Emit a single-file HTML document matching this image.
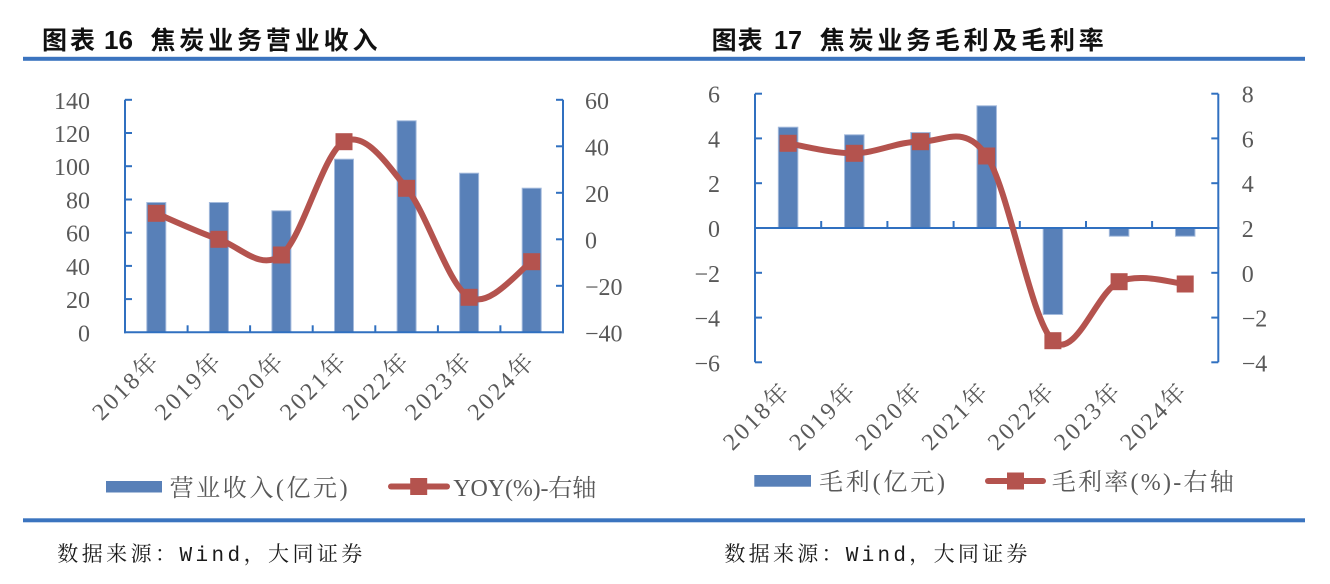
<!DOCTYPE html>
<html>
<head>
<meta charset="utf-8">
<style>
  html,body{margin:0;padding:0;background:#fff;}
  svg{display:block;}
  .ax{font-family:"Liberation Serif","Noto Serif CJK SC",serif;font-size:24px;fill:#595959;}
  .xl{font-family:"Liberation Serif","Noto Serif CJK SC",serif;font-size:24px;fill:#595959;}
  .lg{font-family:"Liberation Serif","Noto Serif CJK SC",serif;font-size:24px;fill:#595959;}
  .tt{font-family:"Noto Sans CJK SC",sans-serif;font-weight:700;font-size:25px;fill:#111;}
  .tn{font-family:"Liberation Sans",sans-serif;font-weight:700;font-size:26px;fill:#111;}
  .src{font-family:"Liberation Mono","Noto Serif CJK SC",serif;font-size:21px;fill:#1a1a1a;}
</style>
</head>
<body>
<svg width="1330" height="584" viewBox="0 0 1330 584" xmlns="http://www.w3.org/2000/svg">
  <rect x="0" y="0" width="1330" height="584" fill="#fff"/>

  <!-- Titles -->
  <text class="tt" x="42" y="49" textLength="53" lengthAdjust="spacing">图表</text>
  <text class="tn" x="104" y="49" textLength="29" lengthAdjust="spacingAndGlyphs">16</text>
  <text class="tt" x="150.5" y="49" textLength="227" lengthAdjust="spacing">焦炭业务营业收入</text>

  <text class="tt" x="711.6" y="49" textLength="51" lengthAdjust="spacing">图表</text>
  <text class="tn" x="774" y="49" textLength="28" lengthAdjust="spacingAndGlyphs">17</text>
  <text class="tt" x="819.8" y="49" textLength="284" lengthAdjust="spacing">焦炭业务毛利及毛利率</text>

  <!-- Rules -->
  <rect x="23" y="56.8" width="1282" height="4" fill="#3b74bf"/>
  <rect x="23" y="518.3" width="1282" height="4" fill="#3b74bf"/>

  <!-- ============ Chart 1 ============ -->
  <g fill="#5880b8" stroke="#a3badc" stroke-width="1">
    <rect x="146.8" y="202.5" width="19" height="129.8"/>
    <rect x="209.4" y="202.5" width="19" height="129.8"/>
    <rect x="271.9" y="210.8" width="19" height="121.5"/>
    <rect x="334.5" y="159.2" width="19" height="173.1"/>
    <rect x="397.1" y="120.8" width="19" height="211.5"/>
    <rect x="459.6" y="173.2" width="19" height="159.1"/>
    <rect x="522.2" y="188.2" width="19" height="144.1"/>
  </g>

  <g stroke="#3070c0" stroke-width="2" fill="none">
    <line x1="125" y1="99.8" x2="125" y2="333.3"/>
    <line x1="563" y1="99.8" x2="563" y2="333.3"/>
    <line x1="124" y1="332.3" x2="564" y2="332.3"/>
    <!-- left ticks -->
    <line x1="125" y1="99.8" x2="132" y2="99.8"/>
    <line x1="125" y1="133.0" x2="132" y2="133.0"/>
    <line x1="125" y1="166.2" x2="132" y2="166.2"/>
    <line x1="125" y1="199.5" x2="132" y2="199.5"/>
    <line x1="125" y1="232.7" x2="132" y2="232.7"/>
    <line x1="125" y1="265.9" x2="132" y2="265.9"/>
    <line x1="125" y1="299.1" x2="132" y2="299.1"/>
    <!-- right ticks -->
    <line x1="556" y1="99.8" x2="563" y2="99.8"/>
    <line x1="556" y1="146.3" x2="563" y2="146.3"/>
    <line x1="556" y1="192.8" x2="563" y2="192.8"/>
    <line x1="556" y1="239.3" x2="563" y2="239.3"/>
    <line x1="556" y1="285.8" x2="563" y2="285.8"/>
    <!-- category ticks -->
    <line x1="187.6" y1="332.3" x2="187.6" y2="325.3"/>
    <line x1="250.1" y1="332.3" x2="250.1" y2="325.3"/>
    <line x1="312.7" y1="332.3" x2="312.7" y2="325.3"/>
    <line x1="375.3" y1="332.3" x2="375.3" y2="325.3"/>
    <line x1="437.9" y1="332.3" x2="437.9" y2="325.3"/>
    <line x1="500.4" y1="332.3" x2="500.4" y2="325.3"/>
  </g>

  <path d="M156.3,213.3 C166.73,217.63 198.05,232.35 218.9,239.3 C239.75,246.25 260.55,271.27 281.4,255 C302.25,238.73 323.13,152.82 344,141.7 C364.87,130.58 385.75,162.37 406.6,188.3 C427.45,214.23 448.25,285.07 469.1,297.3 C489.95,309.53 521.27,267.63 531.7,261.7" fill="none" stroke="#b4534e" stroke-width="6" stroke-linecap="round" stroke-linejoin="round"/>
  <g fill="#b4534e">
    <rect x="147.8" y="204.8" width="17" height="17"/>
    <rect x="210.4" y="230.8" width="17" height="17"/>
    <rect x="272.9" y="246.5" width="17" height="17"/>
    <rect x="335.5" y="133.2" width="17" height="17"/>
    <rect x="398.1" y="179.8" width="17" height="17"/>
    <rect x="460.6" y="288.8" width="17" height="17"/>
    <rect x="523.2" y="253.2" width="17" height="17"/>
  </g>

  <g class="ax" text-anchor="end">
    <text x="90" y="108.8">140</text>
    <text x="90" y="142.0">120</text>
    <text x="90" y="175.2">100</text>
    <text x="90" y="208.5">80</text>
    <text x="90" y="241.7">60</text>
    <text x="90" y="274.9">40</text>
    <text x="90" y="308.1">20</text>
    <text x="90" y="341.3">0</text>
  </g>
  <g class="ax">
    <text x="585" y="108.8">60</text>
    <text x="585" y="155.3">40</text>
    <text x="585" y="201.8">20</text>
    <text x="585" y="248.3">0</text>
    <text x="585" y="294.8">−20</text>
    <text x="585" y="341.3">−40</text>
  </g>

  <g class="xl" text-anchor="end">
    <text x="159.8" y="363.5" transform="rotate(-45 159.8 363.5)" textLength="82" lengthAdjust="spacing">2018年</text>
    <text x="222.4" y="363.5" transform="rotate(-45 222.4 363.5)" textLength="82" lengthAdjust="spacing">2019年</text>
    <text x="284.9" y="363.5" transform="rotate(-45 284.9 363.5)" textLength="82" lengthAdjust="spacing">2020年</text>
    <text x="347.5" y="363.5" transform="rotate(-45 347.5 363.5)" textLength="82" lengthAdjust="spacing">2021年</text>
    <text x="410.1" y="363.5" transform="rotate(-45 410.1 363.5)" textLength="82" lengthAdjust="spacing">2022年</text>
    <text x="472.6" y="363.5" transform="rotate(-45 472.6 363.5)" textLength="82" lengthAdjust="spacing">2023年</text>
    <text x="535.2" y="363.5" transform="rotate(-45 535.2 363.5)" textLength="82" lengthAdjust="spacing">2024年</text>
  </g>

  <!-- Legend 1 -->
  <rect x="106" y="481" width="56" height="11.5" fill="#5880b8"/>
  <text class="lg" x="169.6" y="496" textLength="178" lengthAdjust="spacing">营业收入(亿元)</text>
  <line x1="391" y1="486.5" x2="447" y2="486.5" stroke="#b4534e" stroke-width="6" stroke-linecap="round"/>
  <rect x="410.2" y="478" width="17" height="17" fill="#b4534e"/>
  <text class="lg" x="453.3" y="496" textLength="143" lengthAdjust="spacing">YOY(%)-右轴</text>

  <!-- ============ Chart 2 ============ -->
  <g fill="#5880b8" stroke="#a3badc" stroke-width="1">
    <rect x="778.35" y="127.2" width="19.5" height="100.8"/>
    <rect x="844.55" y="134.8" width="19.5" height="93.2"/>
    <rect x="910.75" y="132.5" width="19.5" height="95.5"/>
    <rect x="976.95" y="105.8" width="19.5" height="122.2"/>
    <rect x="1043.15" y="228" width="19.5" height="86.5"/>
    <rect x="1109.35" y="228" width="19.5" height="8.2"/>
    <rect x="1175.45" y="228" width="19.5" height="8.2"/>
  </g>

  <g stroke="#3070c0" stroke-width="2" fill="none">
    <line x1="755" y1="93.7" x2="755" y2="362.3"/>
    <line x1="1218.3" y1="93.7" x2="1218.3" y2="362.3"/>
    <line x1="754" y1="228" x2="1219.3" y2="228"/>
    <!-- left ticks -->
    <line x1="755" y1="93.7" x2="762" y2="93.7"/>
    <line x1="755" y1="138.4" x2="762" y2="138.4"/>
    <line x1="755" y1="183.2" x2="762" y2="183.2"/>
    <line x1="755" y1="272.8" x2="762" y2="272.8"/>
    <line x1="755" y1="317.6" x2="762" y2="317.6"/>
    <line x1="755" y1="362.3" x2="762" y2="362.3"/>
    <!-- right ticks -->
    <line x1="1211.3" y1="93.7" x2="1218.3" y2="93.7"/>
    <line x1="1211.3" y1="138.4" x2="1218.3" y2="138.4"/>
    <line x1="1211.3" y1="183.2" x2="1218.3" y2="183.2"/>
    <line x1="1211.3" y1="272.8" x2="1218.3" y2="272.8"/>
    <line x1="1211.3" y1="317.6" x2="1218.3" y2="317.6"/>
    <line x1="1211.3" y1="362.3" x2="1218.3" y2="362.3"/>
    <!-- category ticks -->
    <line x1="821.2" y1="228" x2="821.2" y2="221"/>
    <line x1="887.4" y1="228" x2="887.4" y2="221"/>
    <line x1="953.6" y1="228" x2="953.6" y2="221"/>
    <line x1="1019.8" y1="228" x2="1019.8" y2="221"/>
    <line x1="1086" y1="228" x2="1086" y2="221"/>
    <line x1="1152.1" y1="228" x2="1152.1" y2="221"/>
  </g>

  <path d="M788.1,143.3 C799.13,144.97 832.23,153.57 854.3,153.3 C876.37,153.03 898.43,141.25 920.5,141.7 C942.57,142.15 964.63,122.83 986.7,156 C1008.77,189.17 1030.83,319.75 1052.9,340.7 C1074.97,361.65 1097.05,291.15 1119.1,281.7 C1141.15,272.25 1174.18,283.62 1185.2,284" fill="none" stroke="#b4534e" stroke-width="6" stroke-linecap="round" stroke-linejoin="round"/>
  <g fill="#b4534e">
    <rect x="779.6" y="134.8" width="17" height="17"/>
    <rect x="845.8" y="144.8" width="17" height="17"/>
    <rect x="912" y="133.2" width="17" height="17"/>
    <rect x="978.2" y="147.5" width="17" height="17"/>
    <rect x="1044.4" y="332.2" width="17" height="17"/>
    <rect x="1110.6" y="273.2" width="17" height="17"/>
    <rect x="1176.7" y="275.5" width="17" height="17"/>
  </g>

  <g class="ax" text-anchor="end">
    <text x="720" y="102.7">6</text>
    <text x="720" y="147.4">4</text>
    <text x="720" y="192.2">2</text>
    <text x="720" y="237">0</text>
    <text x="720" y="281.8">−2</text>
    <text x="720" y="326.6">−4</text>
    <text x="720" y="371.3">−6</text>
  </g>
  <g class="ax">
    <text x="1241.7" y="102.7">8</text>
    <text x="1241.7" y="147.4">6</text>
    <text x="1241.7" y="192.2">4</text>
    <text x="1241.7" y="237">2</text>
    <text x="1241.7" y="281.8">0</text>
    <text x="1241.7" y="326.6">−2</text>
    <text x="1241.7" y="371.3">−4</text>
  </g>

  <g class="xl" text-anchor="end">
    <text x="790.6" y="393.5" transform="rotate(-45 790.6 393.5)" textLength="82" lengthAdjust="spacing">2018年</text>
    <text x="856.8" y="393.5" transform="rotate(-45 856.8 393.5)" textLength="82" lengthAdjust="spacing">2019年</text>
    <text x="923" y="393.5" transform="rotate(-45 923 393.5)" textLength="82" lengthAdjust="spacing">2020年</text>
    <text x="989.2" y="393.5" transform="rotate(-45 989.2 393.5)" textLength="82" lengthAdjust="spacing">2021年</text>
    <text x="1055.4" y="393.5" transform="rotate(-45 1055.4 393.5)" textLength="82" lengthAdjust="spacing">2022年</text>
    <text x="1121.6" y="393.5" transform="rotate(-45 1121.6 393.5)" textLength="82" lengthAdjust="spacing">2023年</text>
    <text x="1187.7" y="393.5" transform="rotate(-45 1187.7 393.5)" textLength="82" lengthAdjust="spacing">2024年</text>
  </g>

  <!-- Legend 2 -->
  <rect x="754.3" y="475" width="56.7" height="11.7" fill="#5880b8"/>
  <text class="lg" x="819" y="490" textLength="126" lengthAdjust="spacing">毛利(亿元)</text>
  <line x1="988" y1="481" x2="1043" y2="481" stroke="#b4534e" stroke-width="6" stroke-linecap="round"/>
  <rect x="1007" y="472.5" width="17" height="17" fill="#b4534e"/>
  <text class="lg" x="1051.7" y="490" textLength="182" lengthAdjust="spacing">毛利率(%)-右轴</text>

  <!-- Sources -->
  <text class="src" x="57.3" y="561" textLength="305" lengthAdjust="spacing">数据来源：Wind，大同证券</text>
  <text class="src" x="724.4" y="561" textLength="303" lengthAdjust="spacing">数据来源：Wind，大同证券</text>
</svg>
</body>
</html>
